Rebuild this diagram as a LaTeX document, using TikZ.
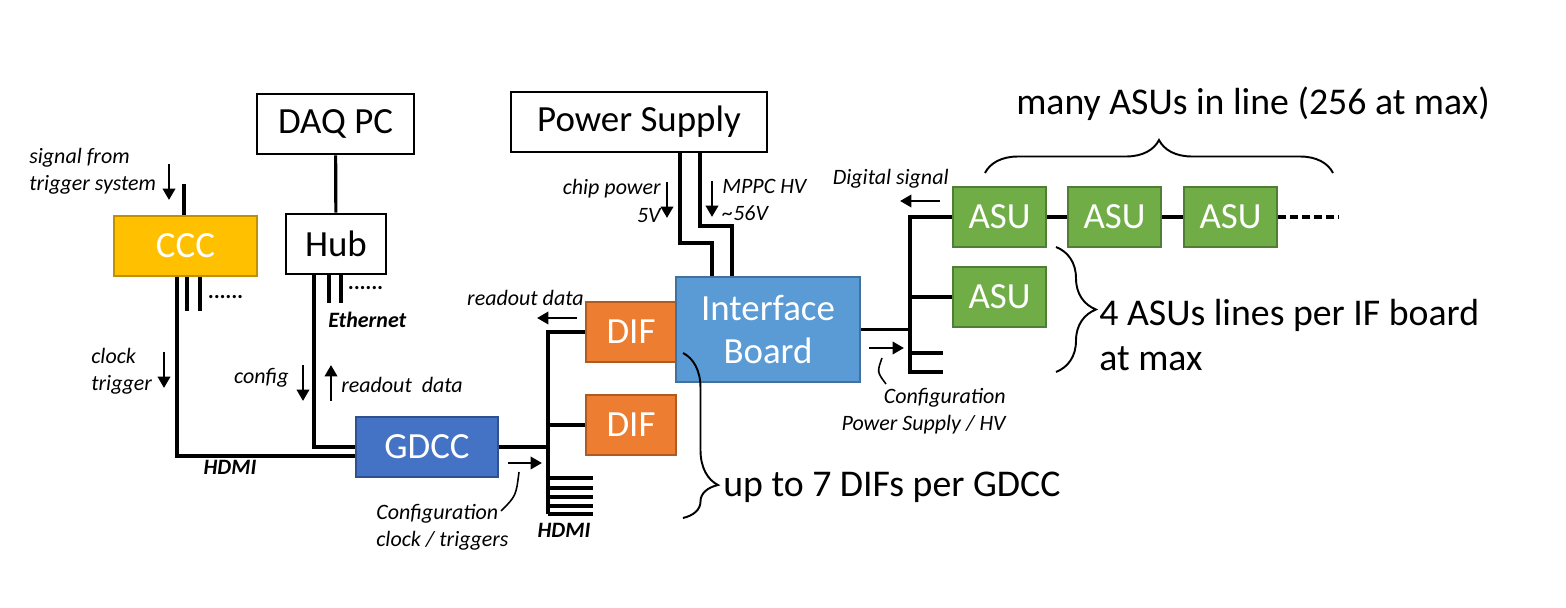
\documentclass[tikz,border=0pt]{standalone}
\usepackage{fontspec}
\setmainfont{Carlito}
\usetikzlibrary{arrows.meta,calc,decorations.pathreplacing}
\definecolor{cccfill}{HTML}{FFC000}
\definecolor{cccline}{HTML}{BF9000}
\definecolor{iffill}{HTML}{5B9BD5}
\definecolor{ifline}{HTML}{41719C}
\definecolor{diffill}{HTML}{ED7D31}
\definecolor{difline}{HTML}{AE5A21}
\definecolor{gdccfill}{HTML}{4472C4}
\definecolor{gdccline}{HTML}{2F528F}
\definecolor{asufill}{HTML}{70AD47}
\definecolor{asuline}{HTML}{507E32}
\begin{document}
\begin{tikzpicture}
        [x=0.02cm, y=-0.02cm,
         plain/.style={draw=black, line width=1.6pt, minimum height=1.2cm, inner sep=0pt, font=\fontsize{21}{25}\selectfont},
         unit/.style={line width=1.2pt, minimum height=1.2cm, inner sep=0pt, text=white, font=\fontsize{21}{25}\selectfont},
         ccc/.style={unit, fill=cccfill, draw=cccline, minimum width=2.86cm},
         ifb/.style={unit, fill=iffill, draw=ifline, minimum width=3.68cm, minimum height=2.1cm, align=center},
         dif/.style={unit, fill=diffill, draw=difline, minimum width=1.8cm},
         gdcc/.style={unit, fill=gdccfill, draw=gdccline, minimum width=2.84cm},
         asu/.style={unit, fill=asufill, draw=asuline, minimum width=1.86cm},
         wire/.style={line width=1.8pt},
         sig/.style={line width=1.6pt, -{Triangle[length=6.5pt,width=7pt]}},
         leader/.style={line width=0.9pt},
         curly/.style={line width=1.1pt, decorate},
         note/.style={inner sep=0pt, align=left, font=\fontsize{12.5}{15.5}\selectfont\itshape},
         bnote/.style={inner sep=0pt, font=\fontsize{12.5}{15}\selectfont\bfseries\itshape},
         big/.style={inner sep=0pt, align=left, font=\fontsize{21.5}{25.5}\selectfont}]
        \useasboundingbox (0,0) rectangle (1566,608);
        % boxes
        \node[plain, minimum width=3.14cm] (daq) at (335.5,124) {DAQ PC};
        \node[plain, minimum width=2cm] (hub) at (336,244) {Hub};
        \node[ccc] (ccc) at (185.5,246) {CCC};
        \node[plain, minimum width=5.12cm] (ps) at (639,122) {Power Supply};
        \node[dif] (dif1) at (631,332) {DIF};
        \node[dif] (dif2) at (631,425) {DIF};
        \node[ifb] (ifb) at (768,329.5) {Interface\\Board};
        \node[gdcc] (gdcc) at (427,447) {GDCC};
        \foreach \n/\x in {1/999.5, 2/1114.5, 3/1230.5}
          \node[asu] (asu\n) at (\x,217) {ASU};
        \node[asu] (asu4) at (999.5,297) {ASU};
        % left side
        \coordinate (trig) at (184,184);
        \draw[wire] (daq) -- (hub);
        \draw[wire] (trig) -- (trig |- ccc.north);
        \draw[wire] ($(ccc.south)+(-8.5,0)$) |- ($(gdcc.west)+(0,9)$);
        \foreach \dx in {1.5,14.5}
          \draw[wire] ($(ccc.south)+(\dx,0)$) -- ++(0,34);
        \draw[wire] ($(hub.south)+(-22,0)$) |- (gdcc.west);
        \foreach \dx in {-7,5}
          \draw[wire] ($(hub.south)+(\dx,0)$) -- ++(0,28);
        \node[bnote] (dots1) at (226,297) {......};
        \node[bnote] (dots2) at (366,288) {......};
        \draw[sig] (169,164) -- (169,200);
        \draw[sig] (164,352) -- (164,388);
        \draw[sig] (303,365) -- (303,401);
        \draw[sig] (331,401) -- (331,365);
        \node[note, anchor=west] (trigtxt) at (29,171) {signal from\\trigger system};
        \node[note, anchor=west] (clktxt) at (91,371) {clock\\trigger};
        \node[note, anchor=east] (cfgtxt) at (289,378) {config};
        \node[note, anchor=west] (rdtxt) at (341,385) {readout\ \ data};
        \node[bnote] (hdmia) at (230,467) {HDMI};
        \node[bnote, anchor=west] (eth) at (328,320) {Ethernet};
        % GDCC to DIFs
        \coordinate (bt) at (548,332);
        \coordinate (bb) at (548,514);
        \draw[wire] (dif1.west) -- (bt) -- (bb);
        \draw[wire] (gdcc.east) -- (gdcc.east -| bt);
        \draw[wire] (dif2.west) -- (dif2.west -| bt);
        \foreach \y in {478,488,497,506,514}
          \draw[wire] (548,\y) -- ++(45,0);
        \draw[sig] (508,463) -- (542,463);
        \draw[sig] (577,318) -- (537,318);
        \draw[leader] (519,472) .. controls (516,496) .. (501,511);
        \node[note, anchor=west] (cfgclk) at (376,527) {Configuration\\clock / triggers};
        \node[bnote] (hdmib) at (564,530) {HDMI};
        \node[note, anchor=east] (rdtxtb) at (584,298) {readout data};
        % power supply
        \draw[wire] (ps.south -| 680,0) -- (680,243) -- (712,243) -- (ifb.north -| 712,0);
        \draw[wire] (ps.south -| 700,0) -- (700,226) -- (732,226) -- (ifb.north -| 732,0);
        \draw[sig] (667,182) -- (667,218);
        \draw[sig] (712,181) -- (712,217);
        \node[note, anchor=east, align=right] (chip) at (661,201) {chip power\\5V};
        \node[note, anchor=west] (mppc) at (722,200) {MPPC HV\\\textasciitilde 56V};
        % interface board to ASUs
        \coordinate (it) at (910,217);
        \coordinate (ib) at (910,372);
        \draw[wire] (asu1.west) -- (it) -- (ib) -- ++(33,0);
        \draw[wire] (ifb.east) -- (ifb.east -| it);
        \draw[wire] (asu4.west) -- (asu4.west -| it);
        \draw[wire] (910,353) -- ++(33,0);
        \draw[wire] (asu1) -- (asu2);
        \draw[wire] (asu2) -- (asu3);
        \draw[wire, dash pattern=on 4.5pt off 2.3pt] (asu3.east) -- ++(60,0);
        \draw[sig] (869,348) -- (904,348);
        \draw[sig] (940,201) -- (900,201);
        \draw[leader] (882,358) .. controls (877,372) .. (886,384);
        \node[note, anchor=east] (digi) at (949,179) {Digital signal};
        \node[note, anchor=east, align=right] (cfgps) at (1006,411) {Configuration\\Power Supply / HV};
        % braces
        \draw[curly, decoration={brace, amplitude=0.66cm}] (985,173) -- (1333,173);
        \draw[curly, decoration={brace, amplitude=0.8cm}] (1056,247) -- (1056,372);
        \draw[curly, decoration={brace, amplitude=0.7cm, aspect=0.8}] (683,353) -- (683,518);
        \node[big, anchor=south] (many) at (1253,121) {many ASUs in line (256 at max)};
        \node[big, anchor=west] (lines) at (1099,335) {4 ASUs lines per IF board\\at max};
        \node[big, anchor=west] (updif) at (723,487) {up to 7 DIFs per GDCC};
\end{tikzpicture}
\end{document}
